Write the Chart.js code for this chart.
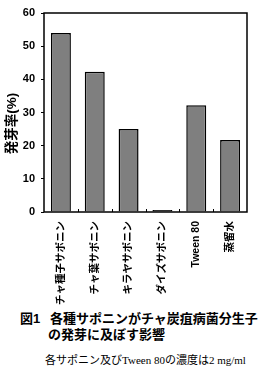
<!DOCTYPE html>
<html><head><meta charset="utf-8">
<script src="https://cdn.jsdelivr.net/npm/chart.js@4/dist/chart.umd.min.js"></script>
<style>
html,body{margin:0;padding:0;background:#fff;width:269px;height:377px;overflow:hidden;}
#wrap{position:absolute;left:0;top:0;width:269px;height:307px;}
.cap{position:absolute;white-space:nowrap;color:#000;}
.t{font-family:"Liberation Sans","Noto Sans CJK JP",sans-serif;font-weight:bold;font-size:13px;line-height:13px;}
.n{font-family:"Liberation Serif","Noto Sans CJK JP",serif;font-size:11px;line-height:11px;}
</style></head>
<body>
<div id="wrap"><canvas id="c"></canvas></div>
<div class="cap t" style="left:20px;top:312px;">図1</div>
<div class="cap t" style="left:50px;top:312px;">各種サポニンがチャ炭疽病菌分生子</div>
<div class="cap t" style="left:48px;top:328px;">の発芽に及ぼす影響</div>
<div class="cap n" style="left:45px;top:355px;">各サポニン及びTween 80の濃度は2 mg/ml</div>
<script>
const categories = ["チャ種子サポニン","チャ葉サポニン","キラヤサポニン","ダイズサポニン","Tween 80","蒸留水"];
const germination = [54, 42.3, 25, 0.4, 32.2, 21.7];
const yTitle = "発芽率(%)";
const yMin = 0, yMax = 60, yStep = 10;

const framePlugin = {
  id: 'frame',
  afterDraw(chart) {
    const {ctx, chartArea: a, scales} = chart;
    const x = scales.x;
    ctx.save();
    ctx.strokeStyle = '#000';
    ctx.lineWidth = 1;
    for (let i = 0; i < categories.length - 1; i++) {
      const px = (x.getPixelForValue(i) + x.getPixelForValue(i + 1)) / 2;
      ctx.beginPath();
      ctx.moveTo(Math.round(px) + 0.5, a.bottom);
      ctx.lineTo(Math.round(px) + 0.5, a.bottom - 3);
      ctx.stroke();
    }
    ctx.lineWidth = 1.5;
    ctx.strokeRect(a.left, a.top, a.right - a.left, a.bottom - a.top);
    ctx.translate(12, 123.5);
    ctx.rotate(-Math.PI / 2);
    ctx.fillStyle = '#000';
    ctx.font = 'bold 13.5px "Liberation Sans","Noto Sans CJK JP"';
    ctx.textAlign = 'center';
    ctx.textBaseline = 'middle';
    ctx.fillText(yTitle, 0, 0);
    ctx.restore();
  }
};

new Chart(document.getElementById('c'), {
  type: 'bar',
  data: {
    labels: categories,
    datasets: [{
      data: germination,
      backgroundColor: (c) => (c.raw !== undefined && c.raw < 1) ? '#000' : '#7f7f7f',
      borderColor: '#000',
      borderWidth: 1.5,
      minBarLength: 2,
      categoryPercentage: 1,
      barPercentage: 0.59
    }]
  },
  options: {
    responsive: true,
    maintainAspectRatio: false,
    animation: false,
    layout: {padding: {top: 13, right: 22, left: 0, bottom: 0}},
    plugins: {legend: {display: false}, tooltip: {enabled: false}},
    scales: {
      x: {
        grid: {display: false, drawTicks: false},
        border: {display: false},
        ticks: {
          color: '#000',
          maxRotation: 90, minRotation: 90,
          padding: 9,
          autoSkip: false,
          font: {family: '"Liberation Sans","Noto Sans CJK JP"', size: 10.5, weight: 'bold'}
        },
        afterFit(s) { s.height = 95; }
      },
      y: {
        min: yMin, max: yMax,
        grid: {drawOnChartArea: false, drawTicks: true, tickLength: 3, color: '#000', lineWidth: 1},
        border: {display: false},
        ticks: {
          stepSize: yStep,
          color: '#000',
          padding: 6,
          font: {family: '"Liberation Sans"', size: 11, weight: 'bold'}
        },
        afterFit(s) { s.width = 44; }
      }
    }
  },
  plugins: [framePlugin]
});
</script>
</body></html>
